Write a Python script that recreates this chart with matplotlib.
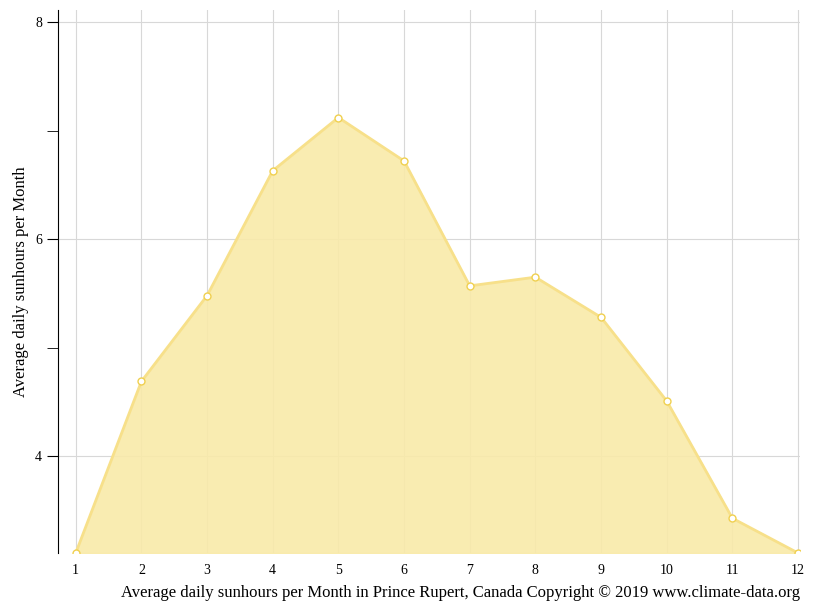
import matplotlib
matplotlib.use("Agg")
import matplotlib.pyplot as plt

months = [1,2,3,4,5,6,7,8,9,10,11,12]
sun = [3.11,4.69,5.48,6.63,7.12,6.72,5.57,5.65,5.28,4.51,3.43,3.11]

plt.rcParams['font.family'] = ['Liberation Serif', 'DejaVu Serif']
fig = plt.figure(figsize=(8.15,6.11), dpi=100)
ax = fig.add_axes([58/815, 1-553/611, 742/815, 543/611])
ax.fill_between(months, sun, 3.11, color='#f9eaa9', alpha=0.9, zorder=2)
ax.plot(months, sun, color='#f7e08a', lw=2, zorder=3)
ax.plot(months, sun, 'o', ms=5, mfc='white', mec='#f0d050', mew=1, zorder=4)
ax.set_xlim(0.73, 12.03)
ax.set_ylim(3.11, 8.11)
ax.set_xticks(months)
ax.set_yticks([4,6,8])
ax.set_yticks([5,7], minor=True)
ax.grid(True, color='#d8d8d8', lw=0.8, zorder=0)
for s in ['top','right','bottom']:
    ax.spines[s].set_visible(False)
ax.tick_params(axis='x', length=0, labelsize=10, pad=8)
ax.tick_params(axis='y', which='both', length=8, labelsize=10)
ax.set_ylabel('Average daily sunhours per Month', fontsize=12)
ax.set_xlabel('Average daily sunhours per Month in Prince Rupert, Canada Copyright © 2019 www.climate-data.org', fontsize=12, loc='right', labelpad=6)
fig.savefig('out.png')
